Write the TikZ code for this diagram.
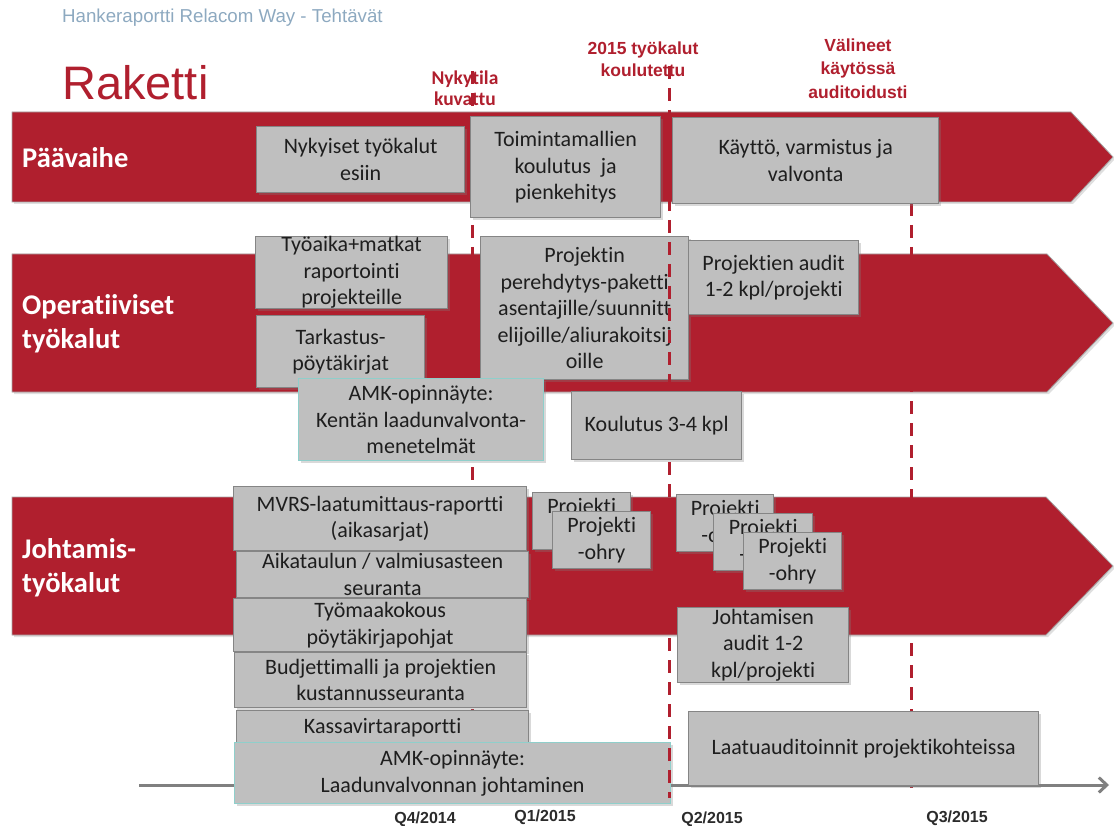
\documentclass[tikz,border=0pt]{standalone}
\usepackage{fontspec}
\setmainfont{Carlito}[RawFeature=-liga]
\newfontfamily\arialfont{Liberation Sans}
\usetikzlibrary{arrows.meta,shadows}

\definecolor{bandred}{HTML}{B01F2E}
\definecolor{boxfill}{HTML}{BFBFBF}
\definecolor{boxline}{HTML}{858585}
\definecolor{tealline}{HTML}{8FCFCB}
\definecolor{boxtext}{HTML}{1E1E1E}
\definecolor{headblue}{HTML}{8DA9C0}
\definecolor{axisgray}{HTML}{808080}
\definecolor{qtext}{HTML}{2B2B2B}

\newcommand\bxfont{\fontsize{22}{26.5}\selectfont}

\tikzset{
  band/.style={fill=bandred, draw=black!35, line width=0.8pt,
    drop shadow={shadow xshift=2pt, shadow yshift=-2pt, opacity=0.25}},
  bandlabel/.style={anchor=west, inner sep=0pt, text=white, align=left,
    font=\bfseries\fontsize{28.5}{33.5}\selectfont},
  box/.style={draw=boxline, line width=1.3pt, fill=boxfill, inner sep=0pt,
    align=center, anchor=north west, font=\bxfont, text=boxtext,
    drop shadow={shadow xshift=2pt, shadow yshift=-2pt, opacity=0.3}},
  thesis/.style={box, draw=tealline},
  milestone/.style={dash pattern=on 13pt off 9pt, line width=3pt, draw=bandred},
  milelabel/.style={text=bandred, align=center, inner sep=0pt},
  axisline/.style={draw=axisgray, line width=3pt,
    -{Straight Barb[length=8pt,width=15pt]}},
  quarter/.style={text=qtext, inner sep=0pt, anchor=base,
    font=\arialfont\bfseries\fontsize{16}{18}\selectfont}
}

\begin{document}
\begin{tikzpicture}[x=1pt,y=-1pt]
\useasboundingbox (0,0) rectangle (1114,826);

% heading and title
\node[anchor=west, inner sep=0pt, text=headblue,
  font=\arialfont\fontsize{18.7}{22}\selectfont] (head) at (62,18)
  {Hankeraportti Relacom Way - Tehtävät};
\node[anchor=base west, inner sep=0pt, text=bandred,
  font=\arialfont\fontsize{47}{52}\selectfont] (title) at (62,100) {Raketti};

% three phase arrows
\draw[band] (12,112) -- (1071,112) -- (1113,157) -- (1071,202) -- (12,202) -- cycle;
\draw[band] (12,254) -- (1047,254) -- (1113,323) -- (1047,392) -- (12,392) -- cycle;
\draw[band] (12,497) -- (1046,497) -- (1113,566) -- (1046,635) -- (12,635) -- cycle;

\node[bandlabel] (paavaihe) at (22,158) {Päävaihe};
\node[bandlabel] (operat) at (22,323.5) {Operatiiviset\\työkalut};
\node[bandlabel] (johtam) at (22,567.5) {Johtamis-\\työkalut};

% milestone lines A and C, and the time axis
\coordinate (a0) at (472,71);
\coordinate (a1) at (472,792);
\coordinate (c0) at (911,203);
\coordinate (c1) at (911,792);
\coordinate (b0) at (669,66);
\coordinate (b1) at (669,798);
\draw[milestone] (a0) -- (a1);
\draw[milestone] (c0) -- (c1);

% milestone labels
\node[milelabel, font=\bfseries\fontsize{19.5}{21}\selectfont] (nykytila) at (465,88) {Nykytila\\kuvattu};
\node[milelabel, font=\arialfont\bfseries\fontsize{17.5}{22}\selectfont] (koulutettu) at (643,59) {2015 työkalut\\koulutettu};
\node[milelabel, font=\arialfont\bfseries\fontsize{17.5}{23.5}\selectfont] (valineet) at (858,68.5) {Välineet\\käytössä\\auditoidusti};

\coordinate (ax0) at (139,785);
\coordinate (ax1) at (1109,785);
\draw[axisline] (ax0) -- (ax1);

% main phase
\node[box, minimum width=208pt, minimum height=66pt] (nyky) at (256,126) {Nykyiset työkalut\\esiin};
\node[box, minimum width=190pt, minimum height=101pt] (toim) at (470,116) {Toimintamallien\\koulutus\ \ ja\\pienkehitys};
\node[box, minimum width=266pt, minimum height=86pt] (kaytto) at (672,117) {Käyttö, varmistus ja\\valvonta};

% operative tools
\node[box, minimum width=192pt, minimum height=72pt] (tyoaika) at (255,236) {Työaika+matkat\\raportointi\\projekteille};
\node[box, minimum width=168pt, minimum height=72pt] (tarkastus) at (256,315) {Tarkastus-\\pöytäkirjat};
\node[box, minimum width=208pt, minimum height=143pt] (perehdytys) at (480,236) {Projektin\\perehdytys-paketti\\asentajille/suunnitt\\elijoille/aliurakoitsij\\oille};
\node[box, minimum width=170pt, minimum height=74pt] (projaudit) at (688,240) {Projektien audit\\1-2 kpl/projekti};
\node[thesis, minimum width=245pt, minimum height=82pt] (amkkentta) at (298,378) {AMK-opinnäyte:\\Kentän laadunvalvonta-\\menetelmät};

% management tools
\node[box, minimum width=293pt, minimum height=64pt] (mvrs) at (233,486) {MVRS-laatumittaus-raportti\\(aikasarjat)};
\node[box, minimum width=292pt, minimum height=46pt] (aikataulu) at (236,551) {Aikataulun / valmiusasteen\\seuranta};
\node[box, minimum width=293pt, minimum height=53pt] (tyomaa) at (233,598) {Työmaakokous\\pöytäkirjapohjat};
\node[box, minimum width=292pt, minimum height=55pt] (budjetti) at (234,652) {Budjettimalli ja projektien\\kustannusseuranta};
\node[box, minimum width=292pt, minimum height=34pt] (kassa) at (236,710) {Kassavirtaraportti};
\node[thesis, minimum width=436pt, minimum height=61pt] (amkjohto) at (234,742) {AMK-opinnäyte:\\Laadunvalvonnan johtaminen};

\node[box, minimum width=98pt, minimum height=57pt] (ohry1) at (532,492) {Projekti\\-ohry};
\node[box, minimum width=98pt, minimum height=57pt] (ohry2) at (552,511) {Projekti\\-ohry};
\node[box, minimum width=97pt, minimum height=57pt] (ohry3) at (676,494) {Projekti\\-ohry};
\node[box, minimum width=99pt, minimum height=57pt] (ohry4) at (713,513) {Projekti\\-ohry};
\node[box, minimum width=98pt, minimum height=57pt] (ohry5) at (743,532) {Projekti\\-ohry};
\node[box, minimum width=171pt, minimum height=75pt] (johtaudit) at (677,607) {Johtamisen\\audit 1-2\\kpl/projekti};
\node[box, minimum width=350pt, minimum height=74pt] (laatu) at (688,711) {Laatuauditoinnit projektikohteissa};

% milestone line B runs over the boxes it crosses
\draw[milestone] (b0) -- (b1);

\node[box, minimum width=170pt, minimum height=68pt] (koulutus) at (571,391) {Koulutus 3-4 kpl};

% quarters on the time axis
\node[quarter] (q4) at (425,823) {Q4/2014};
\node[quarter] (q1) at (545,821) {Q1/2015};
\node[quarter] (q2) at (712,823) {Q2/2015};
\node[quarter] (q3) at (957,822) {Q3/2015};
\end{tikzpicture}
\end{document}
